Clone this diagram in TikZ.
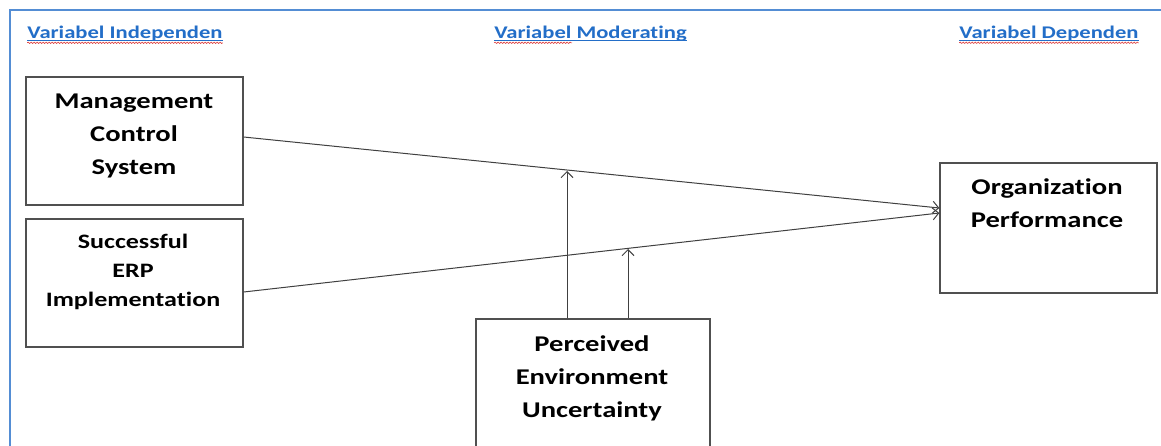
\documentclass[tikz,border=0pt]{standalone}
\usepackage{fontspec}
\setmainfont{Carlito}
\newfontfamily\widefont{Carlito}[FakeStretch=1.27,Ligatures=NoCommon]
\usetikzlibrary{arrows.meta,decorations.pathmorphing}
\definecolor{frameblue}{RGB}{84,141,212}
\definecolor{headblue}{RGB}{35,110,200}
\definecolor{boxgray}{RGB}{80,80,80}
\definecolor{spellred}{RGB}{220,60,60}
\begin{document}
\begin{tikzpicture}[x=1pt,y=-1pt,
  box/.style={draw=boxgray,line width=1.3pt,inner sep=0pt},
  lbl/.style={font=\widefont\bfseries\fontsize{22.5}{33}\selectfont,align=center,text=black,inner sep=0pt},
  lblsmall/.style={font=\widefont\bfseries\fontsize{20.5}{29}\selectfont,align=center,text=black,inner sep=0pt},
  head/.style={font=\widefont\bfseries\fontsize{17.8}{22}\selectfont,text=headblue,anchor=base,inner sep=0pt},
  uline/.style={draw=headblue,line width=1pt},
  wavy/.style={draw=spellred,line width=0.6pt,decorate,decoration={snake,amplitude=0.7pt,segment length=3pt}},
  conn/.style={draw=black!75,line width=1pt,-{Straight Barb[length=6pt,width=12pt]}}
]
\clip (0,0) rectangle (1161,445);
\fill[white] (0,0) rectangle (1161,445);
% frame
\draw[frameblue,line width=2pt] (10,450) -- (10,10) -- (1170,10);
% headers
\node[head] (h1) at (125,38.3) {Variabel Independen};
\node[head] (h2) at (590.5,38.3) {Variabel Moderating};
\node[head] (h3) at (1049,38.3) {Variabel Dependen};
\foreach \h in {h1,h2,h3}{
  \draw[uline] ([yshift=-2.2pt]\h.base west) -- ([yshift=-2.2pt]\h.base east);
}
\draw[wavy] ([yshift=-4.5pt]h1.base west) -- ([yshift=-4.5pt]h1.base east);
\draw[wavy] ([yshift=-4.5pt]h2.base west) -- ([yshift=-4.5pt]h2.base west -| 572,0);
\draw[wavy] ([yshift=-4.5pt]h3.base west) -- ([yshift=-4.5pt]h3.base east);
% boxes
\node[box,minimum width=217pt,minimum height=128pt] (mcs) at (134.5,141) {};
\node[box,minimum width=217pt,minimum height=128pt] (erp) at (134.5,283) {};
\node[box,minimum width=234pt,minimum height=160pt] (peu) at (593,399) {};
\node[box,minimum width=217pt,minimum height=130pt] (op) at (1048.5,228) {};
% texts
\node[lbl] (tmcs) at (134,136) {Management\\Control\\System};
\node[lblsmall] (terp) at (133,272) {Successful\\ERP\\Implementation};
\node[lbl] (tpeu) at (592,378) {Perceived\\Environment\\Uncertainty};
\node[lbl] (top) at (1047,203) {Organization\\Performance};
% connectors
\draw[conn] ([yshift=4pt]mcs.east) -- ([yshift=20pt]op.west);
\draw[conn] ([yshift=-9pt]erp.east) -- ([yshift=15pt]op.west);
\coordinate (t1) at (567,171);
\coordinate (t2) at (628,249);
\draw[conn] ([xshift=-26pt]peu.north) -- (t1);
\draw[conn] ([xshift=35pt]peu.north) -- (t2);
\end{tikzpicture}
\end{document}
